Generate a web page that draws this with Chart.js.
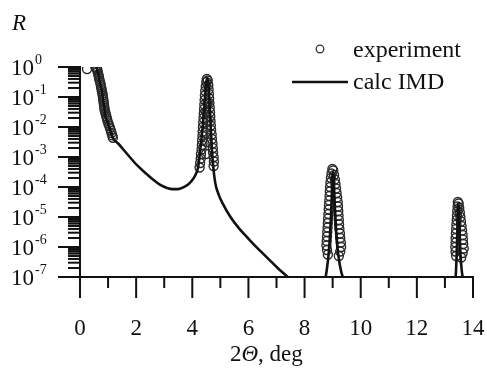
<!DOCTYPE html>
<html>
<head>
<meta charset="utf-8">
<script src="https://cdn.jsdelivr.net/npm/chart.js@4/dist/chart.umd.min.js"></script>
<style>
  body { margin: 0; background: #fff; }
</style>
</head>
<body>
<canvas id="chart" width="487" height="368"></canvas>
<script>
// calc IMD curve: 2-theta (deg) and log10 R
const calcAngle = [0.45, 0.58, 0.64, 0.72, 0.79, 0.89, 0.98, 1.07, 1.18, 1.36, 1.68, 2.04,
  2.39, 2.60, 2.86, 3.10, 3.30, 3.50, 3.64, 3.85, 4.00, 4.12, 4.21, 4.29, 4.36, 4.42, 4.47, 4.51,
  4.54, 4.57, 4.61, 4.65, 4.69, 4.74, 4.82, 4.95, 5.10, 5.36, 5.65, 5.96, 6.25, 6.54, 6.80, 7.04,
  7.40, 7.60, 8.00, 8.40, 8.65, 8.74, 8.80, 8.85, 8.90, 8.94, 8.97, 8.99, 9.01, 9.03, 9.05, 9.08, 9.12,
  9.17, 9.23, 9.30, 9.38, 9.60, 10.5, 11.5, 12.5, 13.20, 13.38, 13.42, 13.45, 13.47, 13.49, 13.51, 13.54,
  13.58, 13.63, 13.80, 14.0];
const calcLogR = [0.05, 0.0, -0.2, -0.55, -0.87, -1.53, -1.85, -2.10, -2.38, -2.55, -2.90, -3.28,
  -3.58, -3.75, -3.93, -4.03, -4.07, -4.07, -4.03, -3.92, -3.77, -3.58, -3.33, -2.70, -2.10, -1.40, -0.80, -0.45,
  -0.38, -0.55, -1.10, -1.90, -2.60, -3.25, -3.87, -4.28, -4.58, -5.00, -5.36, -5.68, -5.97, -6.24, -6.48, -6.70,
  -7.00, -7.20, -7.60, -7.50, -7.25, -7.05, -6.70, -6.30, -5.70, -5.00, -4.30, -3.75, -3.50, -3.60, -4.00, -4.70, -5.40,
  -6.00, -6.45, -6.80, -7.05, -7.40, -7.80, -7.80, -7.70, -7.40, -7.00, -6.20, -5.20, -4.60, -4.55, -5.00, -6.00,
  -6.60, -7.00, -7.50, -7.60];

// experiment points: 2-theta (deg) and log10 R
const expAngle = [
  0.25, 0.55, 0.58, 0.60, 0.62, 0.63, 0.65, 0.67, 0.68, 0.70, 0.72, 0.74, 0.75, 0.77, 0.78, 0.80, 0.81,
  0.82, 0.83, 0.84, 0.85, 0.86, 0.87, 0.88, 0.90, 0.92, 0.94, 0.96, 0.98, 1.01, 1.04, 1.07, 1.10, 1.12,
  1.15, 1.17,
  4.26, 4.28, 4.30, 4.31, 4.33, 4.34, 4.35, 4.36, 4.37, 4.38, 4.39, 4.40, 4.41, 4.42, 4.43, 4.44, 4.45,
  4.46, 4.48, 4.50, 4.52, 4.55, 4.57, 4.58, 4.59, 4.60, 4.61, 4.62, 4.63, 4.64, 4.65, 4.66, 4.67, 4.69,
  4.70, 4.72, 4.73, 4.74, 4.76, 4.77, 4.76, 4.49, 4.53, 4.48, 4.55, 4.50, 4.54,
  8.99, 8.96, 8.94, 8.92, 8.91, 8.90, 8.89, 8.88, 8.87, 8.86, 8.85, 8.84, 8.83, 8.82, 8.81, 8.80, 8.79,
  8.78, 8.80, 8.83, 9.02, 9.05, 9.08, 9.10, 9.12, 9.14, 9.16, 9.18, 9.19, 9.20, 9.21, 9.22, 9.23, 9.24,
  9.26, 9.27, 9.29, 9.30, 9.27, 9.22,
  13.46, 13.45, 13.44, 13.43, 13.42, 13.41, 13.40, 13.39, 13.38, 13.38, 13.37, 13.38, 13.40,
  13.49, 13.51, 13.53, 13.55, 13.57, 13.59, 13.61, 13.63, 13.64, 13.65, 13.67, 13.63, 13.58];
const expLogR = [
  -0.07, 0.00, -0.03, -0.06, -0.11, -0.17, -0.24, -0.31, -0.38, -0.45, -0.52, -0.60, -0.67, -0.74, -0.81, -0.88, -0.95,
  -1.02, -1.09, -1.16, -1.23, -1.30, -1.37, -1.44, -1.51, -1.58, -1.65, -1.72, -1.80, -1.88, -1.96, -2.04, -2.12, -2.20,
  -2.28, -2.36,
  -3.35, -3.20, -3.05, -2.90, -2.75, -2.60, -2.45, -2.30, -2.15, -2.00, -1.85, -1.70, -1.55, -1.40, -1.25, -1.10, -0.95,
  -0.80, -0.65, -0.50, -0.40, -0.45, -0.60, -0.75, -0.90, -1.05, -1.20, -1.35, -1.50, -1.65, -1.80, -1.95, -2.10, -2.25,
  -2.40, -2.55, -2.70, -2.85, -3.00, -3.15, -3.30, -2.90, -2.50, -2.20, -1.80, -1.50, -1.20,
  -3.40, -3.55, -3.70, -3.85, -4.00, -4.15, -4.30, -4.45, -4.60, -4.75, -4.90, -5.05, -5.20, -5.35, -5.50, -5.65, -5.80,
  -5.95, -6.10, -6.25, -3.45, -3.60, -3.75, -3.90, -4.05, -4.20, -4.35, -4.50, -4.65, -4.80, -4.95, -5.10, -5.25, -5.40,
  -5.55, -5.70, -5.85, -6.00, -6.15, -6.30,
  -4.50, -4.65, -4.80, -4.95, -5.10, -5.25, -5.40, -5.55, -5.70, -5.85, -6.00, -6.15, -6.30,
  -4.55, -4.70, -4.85, -5.00, -5.15, -5.30, -5.45, -5.60, -5.75, -5.90, -6.05, -6.20, -6.35];

const xLabels = [0, 2, 4, 6, 8, 10, 12, 14];
const yDecades = [0, -1, -2, -3, -4, -5, -6, -7];

const SERIF = '"Liberation Serif", "Times New Roman", serif';
const INK = '#111';

function toPoints(xs, logs) {
  return xs.map((x, i) => ({ x: x, y: Math.pow(10, logs[i]) }));
}

// ticks, axis labels and legend drawn on top of the chart
const decor = {
  id: 'decor',
  afterDraw(chart) {
    const ctx = chart.ctx;
    const xs = chart.scales.x;
    const ys = chart.scales.y;
    const left = chart.chartArea.left;
    const bottom = chart.chartArea.bottom;
    ctx.save();
    ctx.strokeStyle = INK;
    ctx.fillStyle = INK;
    ctx.lineWidth = 2;

    // y ticks: long at decades, short for 2..9
    yDecades.forEach(e => {
      const py = ys.getPixelForValue(Math.pow(10, e));
      ctx.beginPath();
      ctx.moveTo(left - 22, py);
      ctx.lineTo(left, py);
      ctx.stroke();
      if (e > yDecades[yDecades.length - 1]) {
        for (let m = 2; m <= 9; m++) {
          const pm = ys.getPixelForValue(m * Math.pow(10, e - 1));
          ctx.beginPath();
          ctx.moveTo(left - 12, pm);
          ctx.lineTo(left, pm);
          ctx.stroke();
        }
      }
      // 10 with superscript exponent
      ctx.textBaseline = 'alphabetic';
      ctx.textAlign = 'left';
      ctx.font = '23px ' + SERIF;
      ctx.fillText('10', 11, py + 8);
      const w = ctx.measureText('10').width;
      ctx.font = '14px ' + SERIF;
      ctx.fillText(e === 0 ? '0' : '-' + (-e), 11 + w + 1, py - 3);
    });

    // x ticks: long at even degrees, short at odd
    for (let v = 0; v <= 14; v++) {
      const px = xs.getPixelForValue(v);
      ctx.beginPath();
      ctx.moveTo(px, bottom);
      ctx.lineTo(px, bottom + (v % 2 === 0 ? 21 : 11));
      ctx.stroke();
    }

    // axis titles
    ctx.textAlign = 'left';
    ctx.textBaseline = 'alphabetic';
    ctx.font = 'italic 23px ' + SERIF;
    ctx.fillText('R', 12, 30);

    let tx = 230;
    const ty = 361;
    ctx.font = '23px ' + SERIF;
    ctx.fillText('2', tx, ty);
    tx += ctx.measureText('2').width;
    ctx.font = 'italic 23px ' + SERIF;
    ctx.fillText('\u0398', tx, ty);
    tx += ctx.measureText('\u0398').width;
    ctx.font = '23px ' + SERIF;
    ctx.fillText(', deg', tx, ty);

    // legend
    ctx.lineWidth = 1.3;
    ctx.strokeStyle = '#333';
    ctx.beginPath();
    ctx.arc(320, 49, 3.8, 0, Math.PI * 2);
    ctx.stroke();
    ctx.lineWidth = 2.6;
    ctx.strokeStyle = INK;
    ctx.beginPath();
    ctx.moveTo(292, 82);
    ctx.lineTo(348, 82);
    ctx.stroke();
    ctx.font = '24px ' + SERIF;
    ctx.fillText('experiment', 353, 57);
    ctx.fillText('calc IMD', 353, 89);
    ctx.restore();
  }
};

new Chart(document.getElementById('chart'), {
  type: 'scatter',
  data: {
    datasets: [
      {
        label: 'calc IMD',
        data: toPoints(calcAngle, calcLogR),
        showLine: true,
        borderColor: INK,
        borderWidth: 2.6,
        pointRadius: 0,
        cubicInterpolationMode: 'monotone',
        order: 0
      },
      {
        label: 'experiment',
        data: toPoints(expAngle, expLogR),
        showLine: false,
        pointStyle: 'circle',
        pointRadius: 4.5,
        borderWidth: 1.4,
        borderColor: '#2a2a2a',
        backgroundColor: 'rgba(0,0,0,0)',
        order: 1
      }
    ]
  },
  options: {
    responsive: false,
    animation: false,
    layout: { padding: { top: 67, right: 14, left: 0, bottom: 0 } },
    plugins: { legend: { display: false }, tooltip: { enabled: false } },
    scales: {
      x: {
        type: 'linear',
        min: 0,
        max: 14,
        grid: { display: false, drawTicks: false },
        border: { display: true, color: INK, width: 2 },
        ticks: {
          stepSize: 2,
          padding: 38,
          color: INK,
          font: { family: SERIF, size: 23 },
          maxRotation: 0
        },
        afterFit(scale) {
          scale.height = 91;
          scale.paddingLeft = 0;
          scale.paddingRight = 0;
        }
      },
      y: {
        type: 'logarithmic',
        min: 1e-7,
        max: 1,
        grid: { display: false, drawTicks: false },
        border: { display: true, color: INK, width: 2 },
        ticks: { display: false },
        afterFit(scale) { scale.width = 80; }
      }
    }
  },
  plugins: [decor]
});
</script>
</body>
</html>
